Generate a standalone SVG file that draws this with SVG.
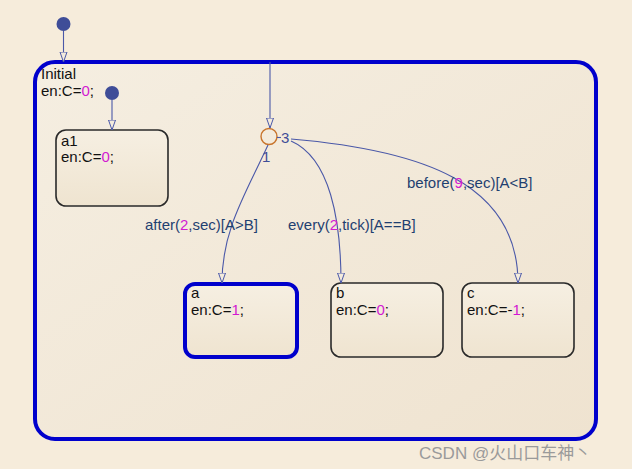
<svg xmlns="http://www.w3.org/2000/svg" width="632" height="469" viewBox="0 0 632 469">
<defs>
<style>
.t{font-family:"Liberation Sans",Arial,sans-serif;font-size:15px;fill:#111}
.lb{font-family:"Liberation Sans",Arial,sans-serif;font-size:15px;fill:#1f3f70}
.n{fill:#d21ad2}
.st{fill:url(#sg);stroke:#2a2a2a;stroke-width:1.6}
.act{fill:url(#sg);stroke:#0000cc;stroke-width:4}
.cn{fill:none;stroke:#4a58a8;stroke-width:1.1}
.dot{fill:#3f4d98}
</style>
<linearGradient id="sg" x1="0" y1="0" x2="0" y2="1">
<stop offset="0" stop-color="#f6efe2"/>
<stop offset="1" stop-color="#efe4d0"/>
</linearGradient>
<linearGradient id="og" x1="0" y1="0" x2="1" y2="1">
<stop offset="0" stop-color="#f5eee1"/>
<stop offset="1" stop-color="#efe3d0"/>
</linearGradient>
<marker id="ar" markerWidth="12" markerHeight="12" refX="10" refY="4" orient="auto" markerUnits="userSpaceOnUse">
<path d="M0,0.5 L10,4 L0,7.5 Z" fill="#f3ebdd" stroke="#4a58a8" stroke-width="1"/>
</marker>
</defs>
<rect width="632" height="469" fill="#f6ecdb"/>

<g id="Initial">
<rect x="35" y="62" width="561" height="377" rx="20" fill="url(#og)" stroke="#0000cc" stroke-width="4"/>
<text class="t" x="41" y="79">Initial</text>
<text class="t" x="41" y="96">en:C=<tspan class="n">0</tspan>;</text>
</g>

<g id="a1">
<rect class="st" x="56" y="130" width="112" height="76" rx="10"/>
<text class="t" x="61" y="146">a1</text>
<text class="t" x="61" y="162">en:C=<tspan class="n">0</tspan>;</text>
</g>

<g id="a">
<rect class="act" x="185" y="284" width="112" height="73" rx="10"/>
<text class="t" x="191" y="298">a</text>
<text class="t" x="191" y="315">en:C=<tspan class="n">1</tspan>;</text>
</g>

<g id="b">
<rect class="st" x="331" y="283" width="112" height="74" rx="10"/>
<text class="t" x="336" y="298">b</text>
<text class="t" x="336" y="315">en:C=<tspan class="n">0</tspan>;</text>
</g>

<g id="c">
<rect class="st" x="462" y="283" width="112" height="74" rx="10"/>
<text class="t" x="467" y="298">c</text>
<text class="t" x="467" y="315">en:C=-<tspan class="n">1</tspan>;</text>
</g>

<g id="junction">
<circle cx="269" cy="136.5" r="8" fill="none" stroke="#c8742c" stroke-width="1.4"/>
</g>

<g id="connectors">
<circle class="dot" cx="63.5" cy="24" r="7"/>
<path class="cn" d="M63.5,31 L63.5,62" marker-end="url(#ar)"/>
<circle class="dot" cx="112" cy="93" r="7"/>
<path class="cn" d="M112,100 L112,130" marker-end="url(#ar)"/>
<path class="cn" d="M270,62 L270,128" marker-end="url(#ar)"/>
<path class="cn" d="M268,145 C 245,195 222,230 222,283" marker-end="url(#ar)"/>
<path class="cn" d="M277,137.5 L281,137.5"/>
<path class="cn" d="M291,141 C 330,158 341,220 341,283" marker-end="url(#ar)"/>
<path class="cn" d="M291,139 C 420,150 518,182 518,283" marker-end="url(#ar)"/>
<text class="lb" x="281" y="143" style="fill:#3f4d98">3</text>
<text class="lb" x="262" y="162" style="fill:#3f4d98">1</text>
<text class="lb" x="145" y="230">after(<tspan class="n">2</tspan>,sec)[A&gt;B]</text>
<text class="lb" x="288" y="230">every(<tspan class="n">2</tspan>,tick)[A==B]</text>
<text class="lb" x="407" y="188">before(<tspan class="n">9</tspan>,sec)[A&lt;B]</text>
</g>

<text x="419" y="459" style="font-family:'Liberation Sans','Noto Sans CJK SC',sans-serif;font-size:17px;fill:#9a9a9a">CSDN @火山口车神丶</text>
</svg>
